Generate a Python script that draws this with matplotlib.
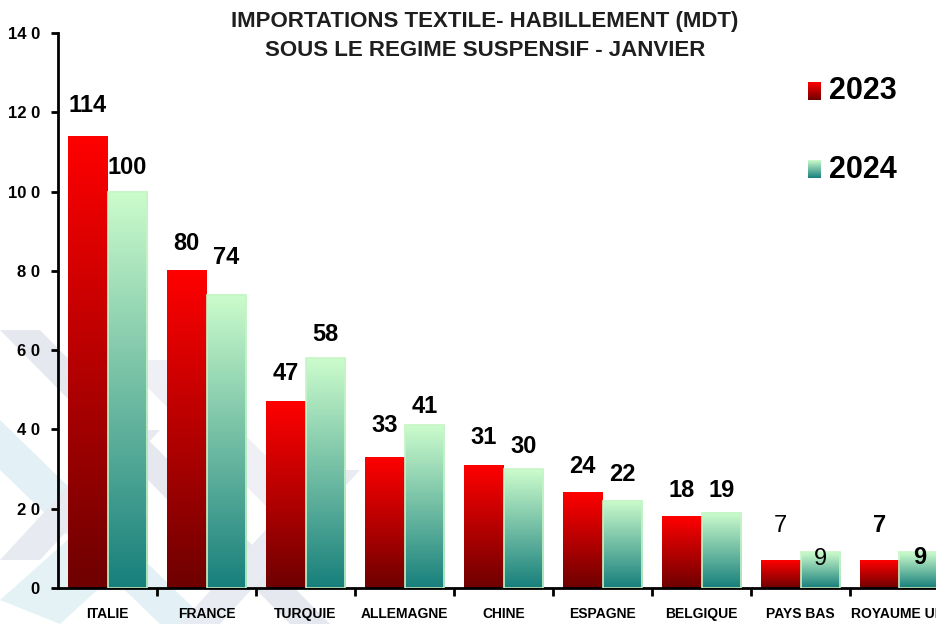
import numpy as np
import matplotlib
matplotlib.use("Agg")
import matplotlib.pyplot as plt
from matplotlib.patches import Polygon
from matplotlib.colors import LinearSegmentedColormap

# Data
pays    = ["ITALIE", "FRANCE", "TURQUIE", "ALLEMAGNE", "CHINE",
           "ESPAGNE", "BELGIQUE", "PAYS BAS", "ROYAUME UNI"]
v2023   = [114, 80, 47, 33, 31, 24, 18, 7, 7]
v2024   = [100, 74, 58, 41, 30, 22, 19, 9, 9]
yticks  = [0, 20, 40, 60, 80, 100, 120, 140]
ylabels = ["0", "2 0", "4 0", "6 0", "8 0", "10 0", "12 0", "14 0"]
series  = ["2023", "2024"]

plt.rcParams["font.family"] = ["Liberation Sans", "DejaVu Sans"]

cRed   = LinearSegmentedColormap.from_list("r", ["#6e0000", "#ff0000"])
cGreen = LinearSegmentedColormap.from_list("g", ["#177f7c", "#ccfccc"])
grad   = np.linspace(0, 1, 256).reshape(-1, 1)

fig = plt.figure(figsize=(9.36, 6.24), dpi=100)

# faint background pattern (pixel coords, y down)
bgax = fig.add_axes([0, 0, 1, 1], zorder=-1)
bgax.set_axis_off()
bgax.set_xlim(0, 936)
bgax.set_ylim(624, 0)
bg = [
    ([(0, 330), (40, 330), (330, 624), (290, 624)], "#e6e8f0"),
    ([(0, 420), (0, 470), (160, 624), (210, 624)], "#e3f1f6"),
    ([(0, 560), (120, 430), (160, 430), (40, 560)], "#e8eaf1"),
    ([(180, 624), (320, 470), (360, 470), (220, 624)], "#e9ebf2"),
    ([(0, 600), (90, 520), (130, 560), (60, 624)], "#e4f2f6"),
    ([(120, 360), (170, 360), (330, 520), (280, 520)], "#eef0f5"),
]
for pts, col in bg:
    bgax.add_patch(Polygon(pts, closed=True, facecolor=col, edgecolor="none"))

ax = fig.add_axes([58/936, 36/624, 891/936, 555/624])
ax.patch.set_alpha(0)

x = np.arange(len(pays))
w = 0.4
for i in range(len(pays)):
    ax.imshow(grad, cmap=cRed, origin="lower", aspect="auto",
              extent=[x[i]-w, x[i], 0, v2023[i]], zorder=2)
    ax.imshow(grad, cmap=cGreen, origin="lower", aspect="auto",
              extent=[x[i], x[i]+w, 0, v2024[i]], zorder=2)
    ax.bar(x[i]+w/2, v2024[i], w, facecolor="none", edgecolor="#c6f5c6",
           linewidth=1.2, zorder=3)

# value labels
off23 = [22, 20, 20, 23, 20, 19, 19, 25, 25]
off24 = [17, 27, 17, 14, 16, 19, 16, -5, -4]
bold23 = [True]*7 + [False, True]
bold24 = [True]*7 + [False, True]
for i in range(len(pays)):
    ax.annotate(str(v2023[i]), (x[i]-w/2, v2023[i]), xytext=(0, off23[i]),
                textcoords="offset points", ha="center", va="center",
                fontsize=17, fontweight="bold" if bold23[i] else "normal",
                color="black", zorder=5)
    ax.annotate(str(v2024[i]), (x[i]+w/2, v2024[i]), xytext=(0, off24[i]),
                textcoords="offset points", ha="center", va="center",
                fontsize=17, fontweight="bold" if bold24[i] else "normal",
                color="black", zorder=5)

ax.set_xlim(-0.5, len(pays)-0.5)
ax.set_ylim(0, 140)
ax.set_yticks(yticks)
ax.set_yticklabels(ylabels, fontsize=12, fontweight="bold")
ax.set_xticks(x[:-1]+0.5)
ax.set_xticklabels([])
ax.set_xticks(x, minor=True)
ax.set_xticklabels(pays, minor=True, fontsize=10, fontweight="bold")
ax.tick_params(axis="x", which="minor", length=0, pad=14)
ax.tick_params(axis="x", which="major", length=6, width=2, direction="out")
ax.tick_params(axis="y", length=5, width=2, direction="out", pad=8)
for s in ["top", "right"]:
    ax.spines[s].set_visible(False)
for s in ["left", "bottom"]:
    ax.spines[s].set_linewidth(2)

# legend (pixel coords, y down)
lg = fig.add_axes([0, 0, 1, 1], zorder=2)
lg.set_axis_off()
lg.imshow(grad, cmap=cRed, origin="lower", aspect="auto",
          extent=[808, 821, 100, 82])
lg.imshow(grad, cmap=cGreen, origin="lower", aspect="auto",
          extent=[808, 821, 178, 160])
lg.set_xlim(0, 936)
lg.set_ylim(624, 0)
lg.text(829, 91, series[0], fontsize=22, fontweight="bold", va="center")
lg.text(829, 170, series[1], fontsize=22, fontweight="bold", va="center")

fig.text(485/936, 1-22/624, "IMPORTATIONS TEXTILE- HABILLEMENT (MDT)",
         ha="center", va="center", fontsize=16, fontweight="bold",
         color="#1e1e1e")
fig.text(485/936, 1-50/624, "SOUS LE REGIME SUSPENSIF - JANVIER",
         ha="center", va="center", fontsize=16, fontweight="bold",
         color="#1e1e1e")

fig.savefig("out.png", dpi=100)
